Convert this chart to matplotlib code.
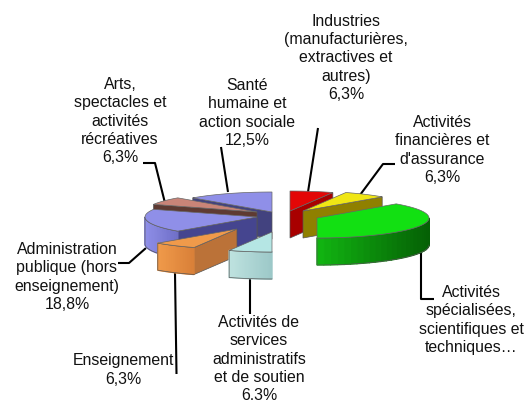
import numpy as np
import matplotlib
matplotlib.use("Agg")
import matplotlib.pyplot as plt

# sectors, clockwise from 12 o'clock
labels = ["Industries\n(manufacturières,\nextractives et\nautres)\n6,3%",
          "Activités\nfinancières et\nd'assurance\n6,3%",
          "Activités\nspécialisées,\nscientifiques et\ntechniques…",
          "Activités de\nservices\nadministratifs\net de soutien\n6.3%",
          "Enseignement\n6,3%",
          "Administration\npublique (hors\nenseignement)\n18,8%",
          "Arts,\nspectacles et\nactivités\nrécréatives\n6,3%",
          "Santé\nhumaine et\naction sociale\n12,5%"]
shares = [6.25, 6.25, 37.5, 6.25, 6.25, 18.75, 6.25, 12.5]

top_col = ["#e30606", "#f0e614", "#12e012", "#b5e6e4", "#f09a4a", "#8f8fe8", "#c98478", "#8f8fe8"]
rim_col = [("#c00000", "#900000"), ("#a09000", "#807000"), ("#12b812", "#056005"),
           ("#bfe3e0", "#9cc8c8"), ("#f09a4a", "#d98038"), ("#8f8fe8", "#7070c8"),
           ("#805048", "#604038"), ("#7070c8", "#505098")]
face_col = ["#a80000", "#8f8000", "#0a8a0a", "#9cc8c8", "#bb7238", "#45458f", "#5e3a32", "#42427f"]

# apex of each exploded slice in pixels
apex_x = [290, 303, 317, 272, 237, 257, 257, 272]
apex_y = [211, 211, 218, 232, 229, 217, 212, 212]
draw_order = [7, 6, 5, 4, 3, 0, 1, 2]

# label centre, leader points
label_x = [346, 442, 471, 259, 123, 67, 120, 247]
label_y = [58, 150, 320, 359, 370, 277, 121, 113]
leader_x = [[308, 318], [360, 383, 395], [421, 421, 434], [250, 250], [175, 176.5], [146, 129, 118], [165, 155, 143], [228, 221]]
leader_y = [[192, 128], [195, 164, 164], [253, 299, 299], [275, 314], [273, 374], [248, 263, 263], [203, 163, 163], [192, 147]]

RX, RY, H = 112, 20, 27

plt.rcParams['font.family'] = ['Liberation Sans', 'DejaVu Sans']
fig = plt.figure(figsize=(5.28, 4.03), dpi=100)
ax = fig.add_axes([0, 0, 1, 1])
ax.set_xlim(0, 528)
ax.set_ylim(403, 0)
ax.axis('off')


def rim(cx, cy, a):
    return cx + RX * np.sin(a), cy - RY * np.cos(a)


def mix(c1, c2, t):
    a = np.array(matplotlib.colors.to_rgb(c1))
    b = np.array(matplotlib.colors.to_rgb(c2))
    return a + (b - a) * t


edges = np.radians(np.cumsum([0] + shares) * 3.6)
for lx, ly in zip(leader_x, leader_y):
    ax.plot(lx, ly, color='black', lw=1.5, zorder=1, solid_capstyle='butt')

z = 2
for i in draw_order:
    cx, cy = apex_x[i], apex_y[i]
    t = np.linspace(edges[i], edges[i + 1], 40)
    x, y = rim(cx, cy, t)
    # cut faces that look towards the viewer
    for a in (edges[i], edges[i + 1]):
        fx, fy = rim(cx, cy, a)
        if (a == edges[i] and np.pi * 1.01 < a) or (a == edges[i + 1] and a < np.pi * 0.99):
            ax.fill([cx, fx, fx, cx], [cy, fy, fy + H, cy + H], color=face_col[i],
                    ec='#555555', lw=0.5, zorder=z)
            z += 1
    # outer wall, only the part in front
    front = np.cos(t) <= 0.02
    if front.sum() > 1:
        xf, yf = x[front], y[front]
        for k in range(len(xf) - 1):
            order = (xf[k] - xf.min()) / max(xf.max() - xf.min(), 1)
            col = mix(rim_col[i][0], rim_col[i][1], order)
            ax.fill([xf[k], xf[k + 1], xf[k + 1], xf[k]],
                    [yf[k], yf[k + 1], yf[k + 1] + H, yf[k] + H],
                    fc=col, ec=col, lw=1.0, zorder=z)
        ax.plot(list(xf) + list(xf[::-1]), list(yf) + list(yf[::-1] + H), color='#555555', lw=0.5, zorder=z)
        z += 1
    ax.fill(np.r_[cx, x], np.r_[cy, y], color=top_col[i], ec='#666666', lw=0.5, zorder=z)
    z += 1

for name, lx, ly in zip(labels, label_x, label_y):
    ax.text(lx, ly, name, ha='center', va='center', fontsize=11.4, linespacing=1.28, color='#111111', zorder=z)

fig.savefig("out.png", dpi=100)
